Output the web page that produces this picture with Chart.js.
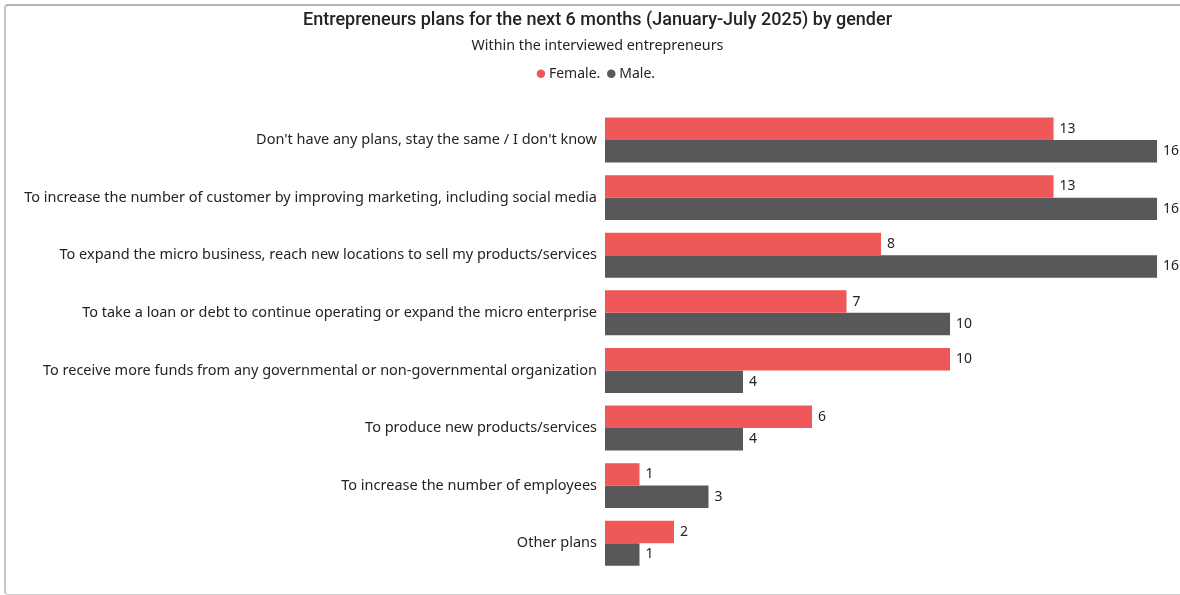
<!DOCTYPE html>
<html>
<head>
<meta charset="utf-8">
<script src="https://cdn.jsdelivr.net/npm/chart.js@4"></script>
<style>
  html, body { margin: 0; padding: 0; background: #fff; overflow: hidden; }
  .card {
    position: absolute; left: 4px; top: 4px; width: 1250px; height: 591px;
    border-top: 2px solid #b4b4b4; border-left: 2px solid #c6c6c6; border-bottom: 1px solid #d0d0d0;
    border-radius: 4px; box-sizing: border-box;
  }
  #plansChart { position: absolute; left: 0; top: 0; }
</style>
</head>
<body>
<div class="card"></div>
<canvas id="plansChart" width="1195" height="595"></canvas>
<script>
const categories = [
  "Don't have any plans, stay the same / I don't know",
  'To increase the number of customer by improving marketing, including social media',
  'To expand the micro business, reach new locations to sell my products/services',
  'To take a loan or debt to continue operating or expand the micro enterprise',
  'To receive more funds from any governmental or non-governmental organization',
  'To produce new products/services',
  'To increase the number of employees',
  'Other plans',
];
const femaleValues = [13, 13, 8, 7, 10, 6, 1, 2];
const maleValues = [16, 16, 16, 10, 4, 4, 3, 1];

// value axis runs a little past the largest bar so its label fits
const VALUE_AXIS_MAX = 17.1;

const LABEL_FONT = '"Segoe UI", "Noto Sans", sans-serif';
const TEXT_COLOR = '#252423';

// writes the value just past the end of every bar
const barValueLabels = {
  id: 'barValueLabels',
  afterDatasetsDraw(chart) {
    const ctx = chart.ctx;
    ctx.save();
    ctx.font = `14px ${LABEL_FONT}`;
    ctx.fillStyle = TEXT_COLOR;
    ctx.textAlign = 'left';
    ctx.textBaseline = 'middle';
    chart.data.datasets.forEach((ds, i) => {
      chart.getDatasetMeta(i).data.forEach((bar, j) => {
        ctx.fillText(String(ds.data[j]), bar.x + 6, bar.y);
      });
    });
    ctx.restore();
  },
};

new Chart(document.getElementById('plansChart'), {
  type: 'bar',
  data: {
    labels: categories,
    datasets: [
      { label: 'Female.', data: femaleValues, backgroundColor: '#ee5858' },
      { label: 'Male.', data: maleValues, backgroundColor: '#58585a' },
    ],
  },
  options: {
    indexAxis: 'y',
    responsive: false,
    animation: false,
    layout: { padding: { left: 0, right: 0, top: 0, bottom: 23 } },
    datasets: { bar: { categoryPercentage: 0.78, barPercentage: 1 } },
    plugins: {
      title: {
        display: true,
        text: 'Entrepreneurs plans for the next 6 months (January-July 2025) by gender',
        color: TEXT_COLOR,
        font: { family: 'Roboto, sans-serif', size: 18, weight: '500' },
        padding: { top: 10, bottom: 5.5 },
      },
      subtitle: {
        display: true,
        text: 'Within the interviewed entrepreneurs',
        color: TEXT_COLOR,
        font: { family: LABEL_FONT, size: 14.3 },
        padding: { top: 0, bottom: 2.5 },
      },
      legend: {
        position: 'top',
        labels: {
          usePointStyle: true,
          pointStyle: 'circle',
          boxWidth: 2,
          boxHeight: 6,
          padding: 10,
          color: TEXT_COLOR,
          font: { family: LABEL_FONT, size: 14 },
        },
      },
      tooltip: { enabled: false },
    },
    scales: {
      x: {
        position: 'top',
        min: 0,
        max: VALUE_AXIS_MAX,
        grid: { display: false },
        border: { display: false },
        ticks: { display: false },
        afterFit: (scale) => { scale.height = 20.5; },
      },
      y: {
        grid: { display: false, drawTicks: false },
        border: { display: false },
        ticks: {
          padding: 8,
          color: TEXT_COLOR,
          font: { family: LABEL_FONT, size: 14.5 },
        },
        afterFit: (scale) => { scale.width = 605; },
      },
    },
  },
  plugins: [barValueLabels],
});
</script>
</body>
</html>
